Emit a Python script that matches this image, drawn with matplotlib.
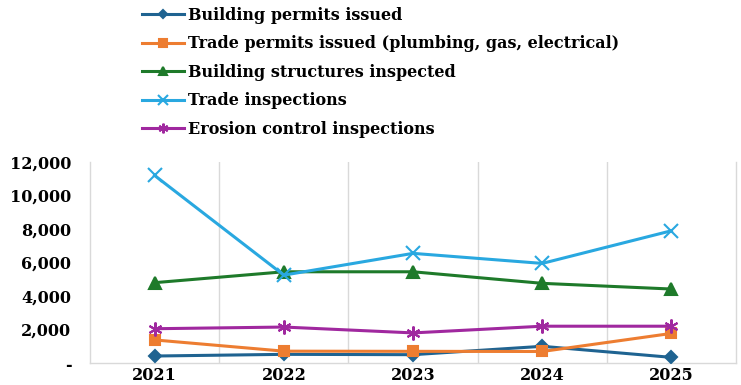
import matplotlib
matplotlib.use("Agg")
import matplotlib.pyplot as plt
from matplotlib.ticker import FuncFormatter
import numpy as np

years = ["2021", "2022", "2023", "2024", "2025"]
building_permits = [420, 520, 500, 1000, 340]
trade_permits = [1380, 710, 700, 690, 1770]
structures_inspected = [4800, 5450, 5450, 4760, 4420]
trade_inspections = [11200, 5250, 6550, 5950, 7900]
erosion_inspections = [2050, 2150, 1800, 2200, 2200]

series = [
    ("Building permits issued", building_permits, "#1f6391", "D", 6.5),
    ("Trade permits issued (plumbing, gas, electrical)", trade_permits, "#ed7d31", "s", 7.5),
    ("Building structures inspected", structures_inspected, "#1e7a2a", "^", 8.5),
    ("Trade inspections", trade_inspections, "#29a8e0", "x", 10),
    ("Erosion control inspections", erosion_inspections, "#a0289f", (6, 2, 0), 10),
]

plt.rcParams["font.family"] = "DejaVu Serif"
plt.rcParams["font.weight"] = "bold"

fig = plt.figure(figsize=(7.41, 3.85), dpi=100)
ax = fig.add_axes([0.1215, 0.057, 0.8718, 0.522])

x = np.arange(len(years))
handles = []
for name, vals, color, marker, ms in series:
    h, = ax.plot(x, vals, color=color, lw=2.2, marker=marker, ms=ms,
                 mew=1.5, label=name, zorder=3)
    handles.append(h)

ax.set_xlim(-0.5, 4.5)
ax.set_ylim(0, 12000)
ax.set_yticks(np.arange(0, 12001, 2000))
ax.yaxis.set_major_formatter(FuncFormatter(lambda v, p: "-" if v == 0 else f"{v:,.0f}"))
ax.set_xticks(x)
ax.set_xticklabels(years, fontsize=11.5)
ax.tick_params(axis="y", labelsize=11.5, length=0, pad=13.5)
ax.tick_params(axis="x", length=0, pad=3)

# category dividers instead of horizontal grid
for b in np.arange(0.5, 4.5, 1):
    ax.axvline(b, color="#d9d9d9", lw=1, zorder=0)
ax.spines["top"].set_visible(False)
for s in ["left", "bottom", "right"]:
    ax.spines[s].set_color("#d9d9d9")
    ax.spines[s].set_linewidth(1)

fig.legend(handles=handles, loc="upper left", bbox_to_anchor=(0.183, 0.999),
           frameon=False, fontsize=11.5, handlelength=2.6, handletextpad=0.3,
           labelspacing=0.72, borderaxespad=0, markerscale=0.7)

fig.savefig("out.png", dpi=100)
